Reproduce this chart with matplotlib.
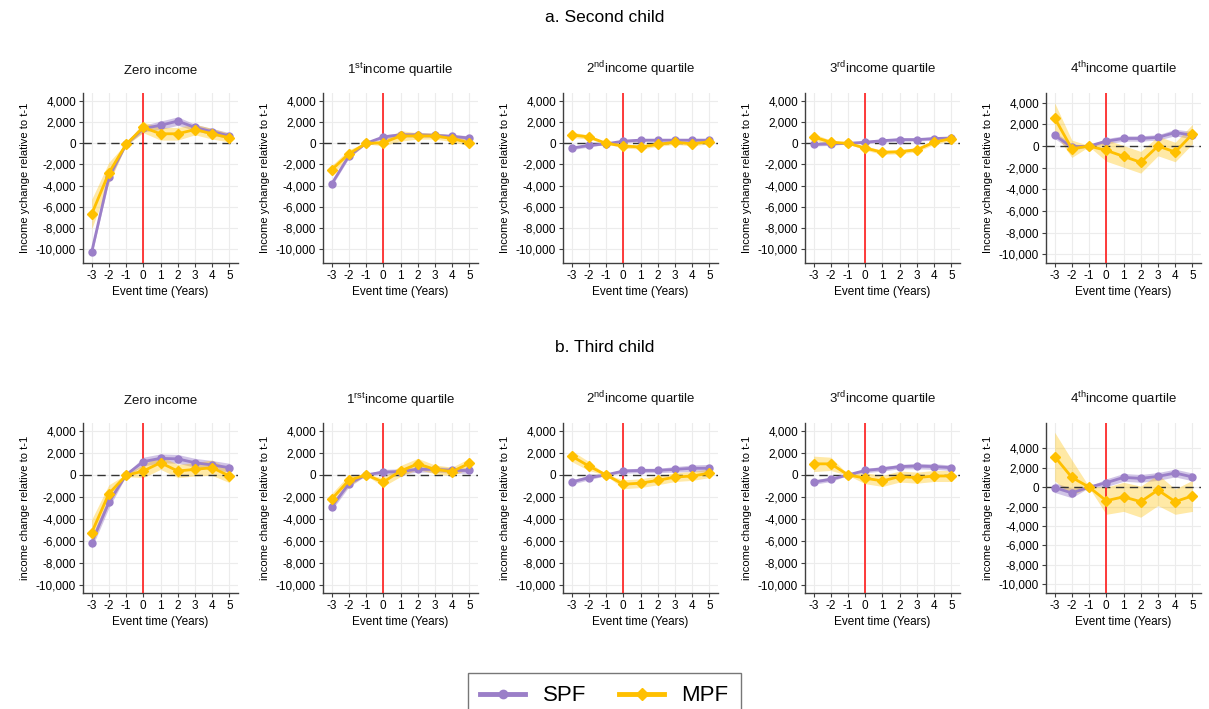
import matplotlib
matplotlib.use("Agg")
import matplotlib.pyplot as plt
from matplotlib.lines import Line2D
import numpy as np

plt.rcParams["font.family"] = ["Liberation Sans", "DejaVu Sans"]
plt.rcParams["mathtext.default"] = "regular"
plt.rcParams["axes.unicode_minus"] = False

# ── Data ─────────────────────────────────────────────────────────────────────
event_time = [-3, -2, -1, 0, 1, 2, 3, 4, 5]

titles_a = ["Zero income", "1$^{st}$income quartile", "2$^{nd}$income quartile",
            "3$^{rd}$income quartile", "4$^{th}$income quartile"]
titles_b = ["Zero income", "1$^{rst}$income quartile", "2$^{nd}$income quartile",
            "3$^{rd}$income quartile", "4$^{th}$income quartile"]

# a. Second child
spf_a = [
    [-10300, -3200, -100, 1400, 1700, 2100, 1500, 1100, 700],
    [-3850, -1200, 0, 600, 800, 800, 750, 650, 500],
    [-450, -200, -50, 200, 300, 300, 300, 300, 300],
    [-100, -50, 0, 100, 250, 350, 350, 450, 500],
    [1000, -100, 0, 450, 700, 700, 800, 1250, 1000],
]
mpf_a = [
    [-6700, -2800, -100, 1500, 900, 900, 1300, 900, 520],
    [-2500, -1000, 0, 50, 700, 700, 700, 450, 50],
    [800, 600, 0, -250, -350, -100, 100, -50, 150],
    [600, 100, 0, -450, -850, -800, -600, 100, 450],
    [2600, -250, 0, -400, -950, -1500, 0, -550, 1100],
]
spf_a_ci = [
    [300, 400, 100, 300, 400, 400, 300, 300, 300],
    [200, 200, 50, 200, 200, 200, 200, 200, 200],
    [150, 150, 50, 150, 150, 150, 150, 150, 150],
    [150, 150, 50, 150, 150, 150, 150, 150, 150],
    [300, 300, 50, 250, 250, 250, 250, 300, 350],
]
mpf_a_ci = [
    [1400, 1000, 100, 500, 600, 600, 500, 500, 400],
    [400, 400, 50, 300, 500, 300, 300, 300, 300],
    [250, 200, 50, 200, 200, 200, 200, 200, 200],
    [300, 200, 50, 200, 200, 200, 200, 200, 200],
    [1400, 800, 50, 1000, 1000, 1000, 900, 900, 900],
]

# b. Third child
spf_b = [
    [-6150, -2500, 0, 1200, 1500, 1450, 1100, 900, 650],
    [-2900, -800, 0, 250, 300, 500, 500, 400, 400],
    [-650, -250, 0, 350, 400, 400, 500, 600, 600],
    [-650, -400, 0, 400, 550, 750, 800, 750, 650],
    [-50, -600, 0, 450, 1000, 900, 1100, 1450, 1050],
]
mpf_b = [
    [-5250, -1700, -50, 350, 1100, 350, 500, 650, -100],
    [-2200, -500, 0, -650, 350, 1000, 500, 300, 1050],
    [1700, 800, 0, -850, -750, -500, -200, -100, 150],
    [1000, 1000, 0, -300, -550, -150, -250, -100, -100],
    [3150, 1000, 0, -1400, -1000, -1500, -300, -1500, -900],
]
spf_b_ci = [
    [500, 500, 100, 400, 400, 400, 400, 400, 400],
    [300, 300, 50, 250, 250, 250, 250, 250, 250],
    [200, 200, 50, 200, 200, 200, 250, 300, 350],
    [200, 200, 50, 200, 200, 200, 250, 250, 250],
    [500, 500, 50, 400, 400, 400, 400, 400, 400],
]
mpf_b_ci = [
    [1200, 800, 100, 600, 600, 600, 600, 700, 600],
    [500, 500, 50, 400, 500, 500, 400, 400, 450],
    [500, 400, 50, 400, 400, 400, 400, 400, 400],
    [700, 600, 50, 500, 500, 500, 500, 500, 500],
    [2500, 1800, 50, 1400, 1500, 1600, 1600, 1300, 1600],
]

y_ticks = [-10000, -8000, -6000, -4000, -2000, 0, 2000, 4000]

# ── Style ────────────────────────────────────────────────────────────────────
SPF_C = "#9b7fc8"
MPF_C = "#ffc000"
AXC = "#404040"

W, H = 1209, 709
fig = plt.figure(figsize=(W / 100, H / 100), dpi=100)
fig.patch.set_facecolor("white")

col_left = [83, 323, 563, 805, 1046]
ax_w = 155
rows = [
    dict(top=93, bottom=263, spf=spf_a, mpf=mpf_a, spf_ci=spf_a_ci, mpf_ci=mpf_a_ci,
         titles=titles_a, ylabel="Income ychange relative to t-1",
         ylims=[(-11300, 4750)] * 4 + [(-10800, 4900)]),
    dict(top=423, bottom=593, spf=spf_b, mpf=mpf_b, spf_ci=spf_b_ci, mpf_ci=mpf_b_ci,
         titles=titles_b, ylabel="income change relative to t-1",
         ylims=[(-10700, 4700)] * 4 + [(-10900, 6600)]),
]


def fmt(v):
    return f"{int(v):,}"


for r in rows:
    for i in range(5):
        left = col_left[i] / W
        bottom = 1 - r["bottom"] / H
        height = (r["bottom"] - r["top"]) / H
        ax = fig.add_axes([left, bottom, ax_w / W, height])

        x = np.array(event_time)
        s = np.array(r["spf"][i])
        m = np.array(r["mpf"][i])
        sc = np.array(r["spf_ci"][i])
        mc = np.array(r["mpf_ci"][i])

        ax.fill_between(x, s - sc, s + sc, color=SPF_C, alpha=0.45, lw=0, zorder=2)
        ax.fill_between(x, m - mc, m + mc, color=MPF_C, alpha=0.35, lw=0, zorder=2)
        ax.axhline(0, color="#333333", lw=1.0, ls=(0, (6, 4)), zorder=2.5)
        ax.axvline(0, color="#ff1a1a", lw=1.2, zorder=2.6)
        ax.plot(x, s, color=SPF_C, lw=2, marker="o", ms=5, zorder=3)
        ax.plot(x, m, color=MPF_C, lw=2, marker="D", ms=5, zorder=4)

        ax.set_xlim(-3.5, 5.5)
        ax.set_ylim(*r["ylims"][i])
        ax.set_xticks(event_time)
        ax.set_yticks(y_ticks)
        ax.set_yticklabels([fmt(v) for v in y_ticks])
        ax.tick_params(labelsize=8.5, colors=AXC, length=3, width=0.8, pad=2)
        ax.tick_params(axis="x", labelcolor="black")
        ax.tick_params(axis="y", labelcolor="black")
        ax.grid(True, color="#ececec", lw=0.8, zorder=0)
        ax.set_axisbelow(True)
        for side in ("top", "right"):
            ax.spines[side].set_visible(False)
        for side in ("left", "bottom"):
            ax.spines[side].set_color(AXC)
            ax.spines[side].set_linewidth(1.0)

        ax.set_xlabel("Event time (Years)", fontsize=8.5, labelpad=3)
        ax.set_ylabel(r["ylabel"], fontsize=8, labelpad=4)
        ax.set_title(r["titles"][i], fontsize=9.5, pad=14, color="#111111")

fig.text(0.5, 1 - 18 / H, "a. Second child", ha="center", va="center", fontsize=12.5)
fig.text(0.5, 1 - 348 / H, "b. Third child", ha="center", va="center", fontsize=12.5)

handles = [
    Line2D([0], [0], color=SPF_C, lw=3.5, marker="o", ms=6),
    Line2D([0], [0], color=MPF_C, lw=3.5, marker="D", ms=6),
]
fig.legend(handles, ["SPF", "MPF"], loc="upper center",
           bbox_to_anchor=(0.5, 1 - 662 / H), ncol=2, fontsize=16,
           frameon=True, fancybox=False, edgecolor="#555555",
           handlelength=2.0, columnspacing=1.5, borderpad=0.55,
           handletextpad=0.8)

fig.savefig("out.png", dpi=100, facecolor="white")
